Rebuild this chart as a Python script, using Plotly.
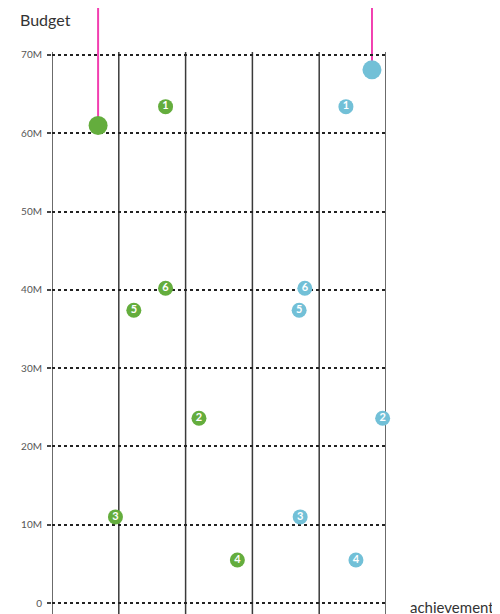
import plotly.graph_objects as go

# two teams, six numbered items each: achievement (x) vs budget (y)
labels = ["1", "2", "3", "4", "5", "6"]
greenX = [34, 44, 19, 55.5, 24.5, 34]
greenY = [63.4e6, 23.6e6, 11.0e6, 5.5e6, 37.4e6, 40.2e6]
blueX = [88, 99, 74.3, 91, 74, 75.7]
blueY = [63.4e6, 23.6e6, 11.0e6, 5.5e6, 37.4e6, 40.2e6]

# the two highlighted totals
bigX = [13.8, 95.8]
bigY = [61.0e6, 68.1e6]
bigColors = ["#64ad3d", "#72c0d7"]

green = "#64ad3d"
blue = "#72c0d7"
pink = "#f23fb0"

yRange = [-1.4e6, 70.38e6]
xRange = [0, 100]
xGrid = [0, 20, 40, 60, 80, 100]

fig = go.Figure()

# vertical grid drawn as shapes so the edge lines show too
for gx in xGrid:
    fig.add_shape(type="line", xref="x", yref="paper", x0=gx, x1=gx, y0=0, y1=1,
                  line=dict(color="#3a3a3a", width=1.5), layer="below")

for xs, ys, col in [(greenX, greenY, green), (blueX, blueY, blue)]:
    fig.add_trace(go.Scatter(
        x=xs, y=ys, mode="markers+text", text=labels,
        marker=dict(size=15, color=col),
        textposition="middle center",
        textfont=dict(family="Lato", size=11, color="white", weight="bold"),
        cliponaxis=False, showlegend=False, hoverinfo="skip"
    ))

# pink stems from the top of the page down to the big dots
for bx, by in zip(bigX, bigY):
    frac = (by - yRange[0]) / (yRange[1] - yRange[0])
    fig.add_shape(type="line", xref="x", yref="paper", x0=bx, x1=bx,
                  y0=frac, y1=1.2, line=dict(color=pink, width=2), layer="below")

fig.add_trace(go.Scatter(
    x=bigX, y=bigY, mode="markers",
    marker=dict(size=19, color=bigColors),
    cliponaxis=False, showlegend=False, hoverinfo="skip"
))

fig.update_xaxes(range=xRange, showgrid=False, zeroline=False,
                 showticklabels=False, showline=False, fixedrange=True)
fig.update_yaxes(range=yRange, tickvals=[0, 10e6, 20e6, 30e6, 40e6, 50e6, 60e6, 70e6],
                 tickformat="~s", showgrid=True, gridcolor="#222", gridwidth=2,
                 griddash="dot", zeroline=False, ticks="outside", ticklen=4,
                 tickcolor="#444", tickwidth=1.5, ticklabelstandoff=3,
                 tickfont=dict(family="Lato", size=10, color="#555"))

fig.add_annotation(text="Budget", xref="paper", yref="paper", x=-44 / 334, y=1 + 32 / 562,
                   xanchor="left", yanchor="middle", showarrow=False, xshift=10,
                   font=dict(family="Lato", size=16, color="#333"))
fig.add_annotation(text="achievement", xref="paper", yref="paper", x=1, y=0,
                   xanchor="left", yanchor="middle", showarrow=False, xshift=22, yshift=7,
                   font=dict(family="Lato", size=15, color="#333"))

fig.update_layout(
    width=500, height=614,
    margin=dict(l=44, r=122, t=44, b=8),
    plot_bgcolor="white", paper_bgcolor="white"
)

fig.write_html("out.html")
